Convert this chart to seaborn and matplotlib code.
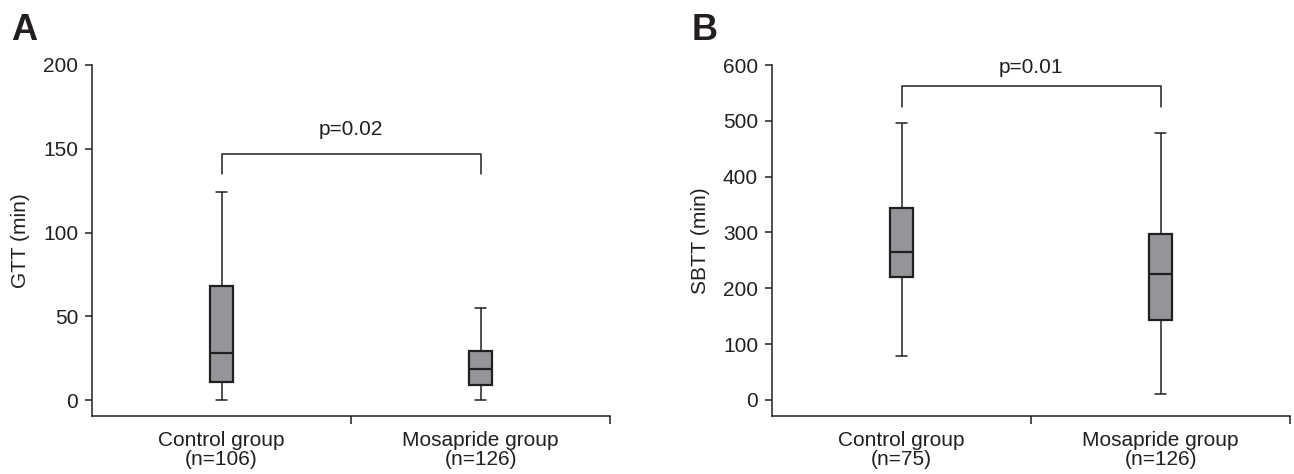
import numpy as np
import pandas as pd
import matplotlib
matplotlib.use("Agg")
import matplotlib.pyplot as plt
import seaborn as sns

# box summaries: [min, q1, median, q3, max]
groups = ["Control group", "Mosapride group"]
gtt_labels = ["Control group\n(n=106)", "Mosapride group\n(n=126)"]
sbtt_labels = ["Control group\n(n=75)", "Mosapride group\n(n=126)"]
gtt_control = [0, 11, 28, 68, 124]
gtt_mosapride = [0, 9, 18.5, 29, 55]
sbtt_control = [79, 220, 265, 344, 497]
sbtt_mosapride = [10, 143, 225, 297, 479]
gtt_p = "p=0.02"
sbtt_p = "p=0.01"

sns.set_style("ticks")
plt.rcParams["font.family"] = ["Liberation Sans", "DejaVu Sans"]

dark = "#231f20"
box_face = "#939598"


def long_frame(ctrl, mosa):
    # with whis=(0, 100) five points give exactly these five box statistics
    return pd.DataFrame({
        "group": [groups[0]] * len(ctrl) + [groups[1]] * len(mosa),
        "value": list(ctrl) + list(mosa),
    })


def panel(ax, df, ticklabels, ylabel, yticks, ylim, p_text, bracket, p_y):
    sns.boxplot(data=df, x="group", y="value", ax=ax, whis=(0, 100),
                width=0.09, color=box_face, linecolor=dark, saturation=1,
                linewidth=1.1, showfliers=False,
                boxprops={"linewidth": 1.6},
                medianprops={"linewidth": 1.6})
    # significance bracket
    top, drop = bracket
    ax.plot([0, 0, 1, 1], [drop, top, top, drop], color=dark, lw=1.1)
    ax.text(0.5, p_y, p_text, ha="center", va="baseline", fontsize=15, color=dark)

    ax.set_xlim(-0.5, 1.5)
    ax.set_ylim(*ylim)
    ax.set_yticks(yticks)
    ax.set_xticks([0, 1])
    ax.set_xticklabels(ticklabels, fontsize=15, color=dark, linespacing=1.0)
    ax.set_xticks([0.5, 1.5], minor=True)
    ax.tick_params(axis="x", which="major", length=0, pad=11)
    ax.tick_params(axis="x", which="minor", length=6, width=1.1, color=dark)
    ax.tick_params(axis="y", length=5, width=1.1, color=dark, pad=5,
                   labelsize=15, labelcolor=dark)
    ax.set_xlabel("")
    ax.set_ylabel(ylabel, fontsize=15, color=dark, labelpad=9)
    for side in ["top", "right"]:
        ax.spines[side].set_visible(False)
    for side in ["left", "bottom"]:
        ax.spines[side].set_color(dark)
        ax.spines[side].set_linewidth(1.1)


fig = plt.figure(figsize=(12.94, 4.74), dpi=100)
axA = fig.add_axes([92 / 1294, 58 / 474, 518 / 1294, 351 / 474])
axB = fig.add_axes([772 / 1294, 58 / 474, 518 / 1294, 351 / 474])

panel(axA, long_frame(gtt_control, gtt_mosapride), gtt_labels, "GTT (min)",
      [0, 50, 100, 150, 200], (-9.5, 200), gtt_p, (147, 135), 158)
panel(axB, long_frame(sbtt_control, sbtt_mosapride), sbtt_labels, "SBTT (min)",
      [0, 100, 200, 300, 400, 500, 600], (-28.7, 600), sbtt_p, (562, 525), 586)

fig.text(11 / 1294, 1 - 13 / 474, "A", fontsize=26, fontweight="bold",
         va="top", ha="left", color=dark)
fig.text(692 / 1294, 1 - 13 / 474, "B", fontsize=26, fontweight="bold",
         va="top", ha="left", color=dark)

fig.savefig("out.png", dpi=100)
